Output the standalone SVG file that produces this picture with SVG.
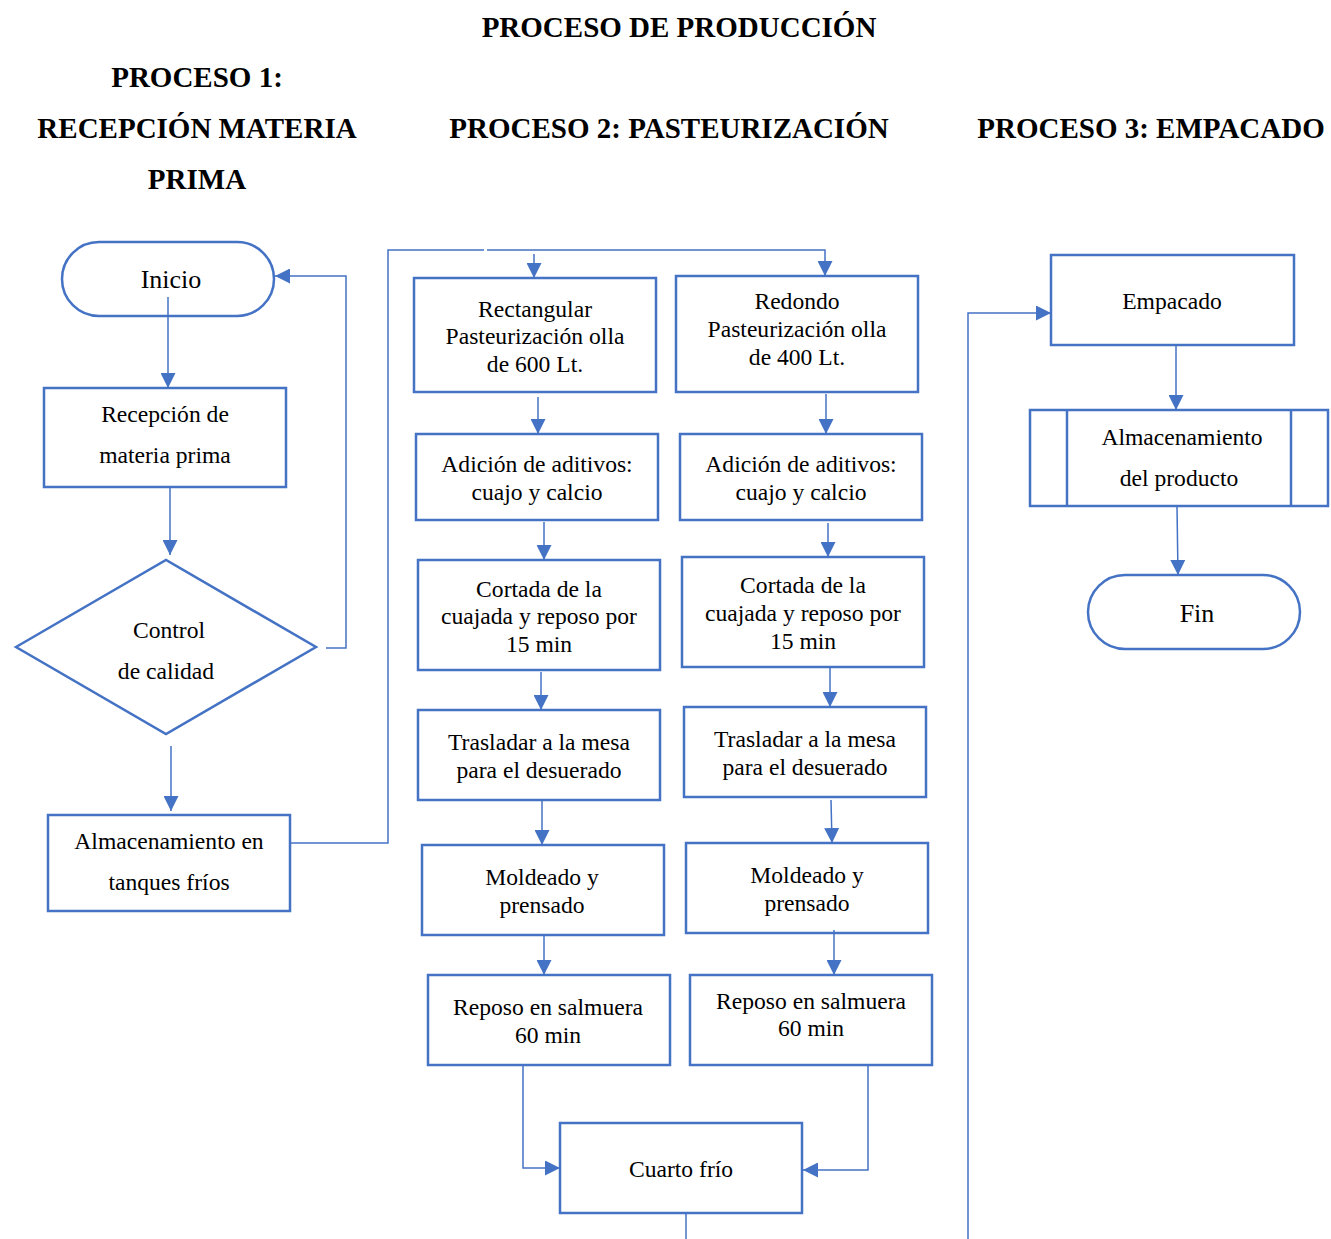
<svg xmlns="http://www.w3.org/2000/svg" width="1331" height="1239" viewBox="0 0 1331 1239">
<defs>
<style>
.t{font-family:"Liberation Serif","Times New Roman",serif;font-size:23.6px;fill:#000;text-anchor:middle}
.h{font-family:"Liberation Serif","Times New Roman",serif;font-size:29px;font-weight:bold;fill:#000;text-anchor:middle}
.b{fill:#fff;stroke:#4472C4;stroke-width:2.5}
.c{fill:none;stroke:#4472C4;stroke-width:1.5}
.a{marker-end:url(#ah)}
</style>
<marker id="ah" viewBox="0 0 10 10" refX="10" refY="5" markerWidth="15" markerHeight="15" markerUnits="userSpaceOnUse" orient="auto"><path d="M0,0 L10,5 L0,10 z" fill="#4472C4"/></marker>
</defs>
<rect width="1331" height="1239" fill="#fff"/>
<g id="titles">
<text class="h" x="679" y="37">PROCESO DE PRODUCCIÓN</text>
<text class="h" x="197" y="87">PROCESO 1:</text>
<text class="h" x="197" y="138">RECEPCIÓN MATERIA</text>
<text class="h" x="197" y="189">PRIMA</text>
<text class="h" x="669" y="138">PROCESO 2: PASTEURIZACIÓN</text>
<text class="h" x="1151" y="138">PROCESO 3: EMPACADO</text>
</g>
<g id="inicio"><rect class="b" x="62" y="242" width="212" height="74" rx="37"/><text class="t" x="171" y="288" style="font-size:26px">Inicio</text></g>
<g id="recepcion"><rect class="b" x="44" y="388" width="242" height="99"/><text class="t" x="165" y="422">Recepción de</text><text class="t" x="165" y="463">materia prima</text></g>
<g id="control"><polygon class="b" points="16,647 166,560 316,647 166,734"/><text class="t" x="169" y="638">Control</text><text class="t" x="166" y="679">de calidad</text></g>
<g id="almacen-tanques"><rect class="b" x="48" y="815" width="242" height="96"/><text class="t" x="169" y="849">Almacenamiento en</text><text class="t" x="169" y="890">tanques fríos</text></g>

<g id="a1"><rect class="b" x="414" y="278" width="242" height="114"/><text class="t" x="535" y="317">Rectangular</text><text class="t" x="535" y="344">Pasteurización olla</text><text class="t" x="535" y="372">de 600 Lt.</text></g>
<g id="a2"><rect class="b" x="416" y="434" width="242" height="86"/><text class="t" x="537" y="472">Adición de aditivos:</text><text class="t" x="537" y="500">cuajo y calcio</text></g>
<g id="a3"><rect class="b" x="418" y="560" width="242" height="110"/><text class="t" x="539" y="597">Cortada de la</text><text class="t" x="539" y="624">cuajada y reposo por</text><text class="t" x="539" y="652">15 min</text></g>
<g id="a4"><rect class="b" x="418" y="710" width="242" height="90"/><text class="t" x="539" y="750">Trasladar a la mesa</text><text class="t" x="539" y="778">para el desuerado</text></g>
<g id="a5"><rect class="b" x="422" y="845" width="242" height="90"/><text class="t" x="542" y="885">Moldeado y</text><text class="t" x="542" y="913">prensado</text></g>
<g id="a6"><rect class="b" x="428" y="975" width="242" height="90"/><text class="t" x="548" y="1015">Reposo en salmuera</text><text class="t" x="548" y="1043">60 min</text></g>

<g id="b1"><rect class="b" x="676" y="276" width="242" height="116"/><text class="t" x="797" y="309">Redondo</text><text class="t" x="797" y="337">Pasteurización olla</text><text class="t" x="797" y="365">de 400 Lt.</text></g>
<g id="b2"><rect class="b" x="680" y="434" width="242" height="86"/><text class="t" x="801" y="472">Adición de aditivos:</text><text class="t" x="801" y="500">cuajo y calcio</text></g>
<g id="b3"><rect class="b" x="682" y="557" width="242" height="110"/><text class="t" x="803" y="593">Cortada de la</text><text class="t" x="803" y="621">cuajada y reposo por</text><text class="t" x="803" y="649">15 min</text></g>
<g id="b4"><rect class="b" x="684" y="707" width="242" height="90"/><text class="t" x="805" y="747">Trasladar a la mesa</text><text class="t" x="805" y="775">para el desuerado</text></g>
<g id="b5"><rect class="b" x="686" y="843" width="242" height="90"/><text class="t" x="807" y="883">Moldeado y</text><text class="t" x="807" y="911">prensado</text></g>
<g id="b6"><rect class="b" x="690" y="975" width="242" height="90"/><text class="t" x="811" y="1009">Reposo en salmuera</text><text class="t" x="811" y="1036">60 min</text></g>

<g id="cuarto"><rect class="b" x="560" y="1123" width="242" height="90"/><text class="t" x="681" y="1177">Cuarto frío</text></g>

<g id="empacado"><rect class="b" x="1051" y="255" width="243" height="90"/><text class="t" x="1172" y="309">Empacado</text></g>
<g id="almacen-producto"><rect class="b" x="1030" y="410" width="298" height="96"/><line class="b" x1="1067" y1="410" x2="1067" y2="506"/><line class="b" x1="1291" y1="410" x2="1291" y2="506"/><text class="t" x="1182" y="445">Almacenamiento</text><text class="t" x="1179" y="486">del producto</text></g>
<g id="fin"><rect class="b" x="1088" y="575" width="212" height="74" rx="37"/><text class="t" x="1197" y="622" style="font-size:26px">Fin</text></g>

<g id="connectors">
<path class="c a" d="M168,297 V388"/>
<path class="c a" d="M170,488 V555"/>
<path class="c a" d="M326,648 H346 V276 H275"/>
<path class="c a" d="M171,746 V811"/>
<path class="c" d="M291,843 H388 V250 H484"/>
<path class="c a" d="M487,250 H825 V276"/>
<path class="c a" d="M534,254 V278"/>
<path class="c a" d="M538,397 V434"/>
<path class="c a" d="M544,522 V560"/>
<path class="c a" d="M541,672 V710"/>
<path class="c a" d="M542,801 V845"/>
<path class="c a" d="M544,936 V975"/>
<path class="c a" d="M523,1066 V1168 H560"/>
<path class="c a" d="M826,394 V434"/>
<path class="c a" d="M828,523 V557"/>
<path class="c a" d="M830,668 V707"/>
<path class="c a" d="M831,800 L832,843"/>
<path class="c a" d="M834,930 V975"/>
<path class="c a" d="M868,1066 V1170 H803"/>
<path class="c" d="M686,1214 V1239"/>
<path class="c a" d="M968,1239 V313 H1051"/>
<path class="c a" d="M1176,346 V410"/>
<path class="c a" d="M1177,507 L1178,575"/>
</g>
</svg>
